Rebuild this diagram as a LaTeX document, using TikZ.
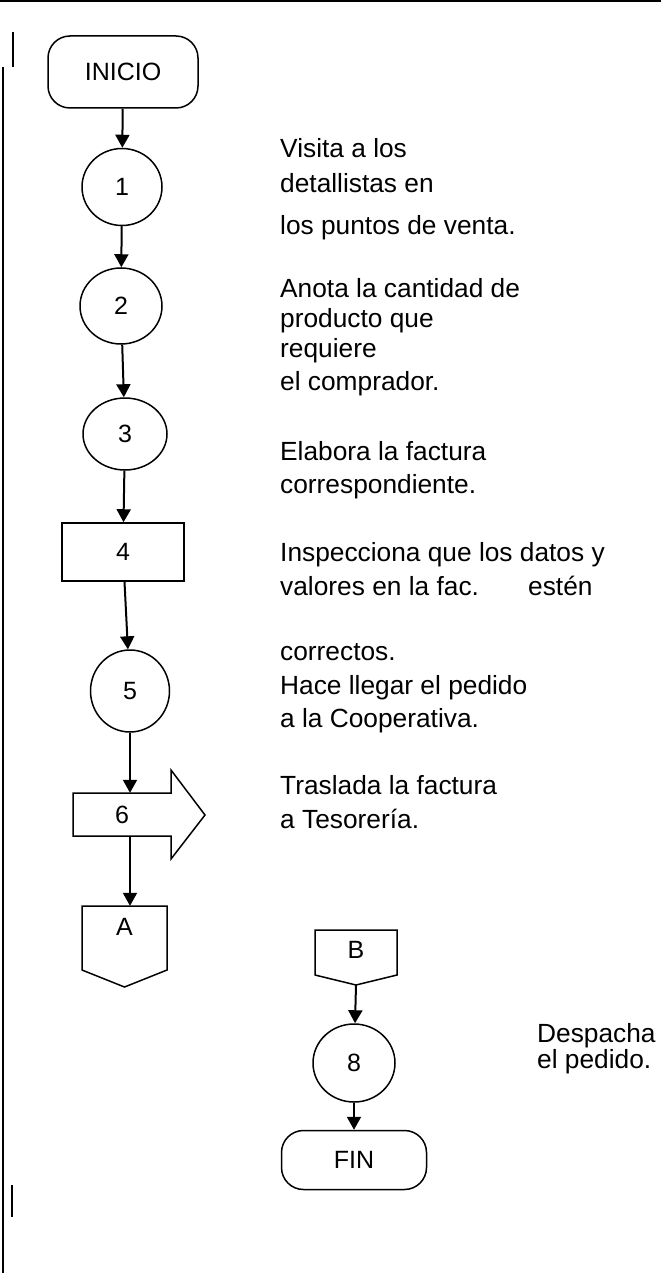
\documentclass[tikz,border=0pt]{standalone}
\usepackage{fontspec}
\setmainfont{Liberation Sans}
\usetikzlibrary{shapes.geometric,arrows.meta}
\begin{document}
\begin{tikzpicture}[x=1pt,y=-1pt,
  every node/.style={font=\fontsize{26.3}{30}\selectfont},
  term/.style={draw,line width=1.5pt,rounded corners=22pt,inner sep=0pt},
  oval/.style={draw,ellipse,line width=1.5pt,inner sep=0pt},
  procbox/.style={draw,rectangle,line width=1.5pt,inner sep=0pt},
  lbl/.style={font=\fontsize{25}{30}\selectfont,inner sep=0pt},
  desc/.style={anchor=base west,inner sep=0pt},
  flow/.style={line width=2pt,-{Triangle[width=14pt,length=13pt]}},
  outline/.style={line width=1.5pt,line join=miter},
  frameline/.style={line width=2pt}]
\useasboundingbox (0,0) rectangle (661,1273);

% frame lines
\draw[frameline,line width=2.5pt] (0,1.25) -- (661,1.25);
\draw[frameline] (13,32) -- (13,67);
\draw[frameline] (3,67) -- (3,1273);
\draw[frameline] (12,1185) -- (12,1217);

% left column
\node[term,lbl,minimum width=150pt,minimum height=72pt] (ini) at (123,72) {INICIO};
\node[oval,lbl,minimum width=80pt,minimum height=77pt] (c1) at (122,187) {1};
\node[oval,lbl,minimum width=82pt,minimum height=76pt] (c2) at (121,306) {2};
\node[oval,lbl,minimum width=84pt,minimum height=72pt] (c3) at (125,434) {3};
\node[procbox,lbl,minimum width=122pt,minimum height=58pt] (b4) at (123,552) {4};
\node[oval,lbl,minimum width=79pt,minimum height=82pt] (c5) at (130,691) {5};

\draw[outline] (73,793) -- (171,793) -- (171,770) -- (205,815) -- (171,859) -- (171,836) -- (73,836) -- cycle;
\node[lbl,minimum width=98pt,minimum height=43pt] (s6) at (122,814.5) {6};

\draw[outline] (82,906) -- (167,906) -- (167,970) -- (124.5,987) -- (82,970) -- cycle;
\node[inner sep=0pt,minimum width=85pt,minimum height=64pt] (nA) at (124.5,938) {};
\node[lbl] (lA) at (124.5,927) {A};

\draw[flow] (ini) -- (c1);
\draw[flow] (c1) -- (c2);
\draw[flow] (c2) -- (c3);
\draw[flow] (c3) -- (b4);
\draw[flow] (b4) -- (c5);
\draw[flow] (c5) -- (c5 |- s6.north);
\draw[flow] (c5 |- s6.south) -- (c5 |- nA.north);

% right column
\draw[outline] (315,930) -- (397,930) -- (397,975) -- (356,985) -- (315,975) -- cycle;
\node[inner sep=0pt,minimum width=82pt,minimum height=45pt] (nB) at (356,952.5) {};
\node[lbl] (lB) at (356,950) {B};
\coordinate (tipB) at (356,985);
\node[oval,lbl,minimum width=82pt,minimum height=78pt] (c8) at (354,1063) {8};
\node[term,lbl,minimum width=145pt,minimum height=59pt] (fin) at (354,1160) {FIN};
\draw[flow] (tipB) -- (c8);
\draw[flow] (c8) -- (fin);

% descriptions
\node[desc] (t1) at (280,158) {Visita a los};
\node[desc] (t2) at (280,193) {detallistas en};
\node[desc] (t3) at (280,235) {los puntos de venta.};
\node[desc] (t4) at (280,297) {Anota la cantidad de};
\node[desc] (t5) at (280,327) {producto que};
\node[desc] (t6) at (280,357) {requiere};
\node[desc] (t7) at (280,390) {el comprador.};
\node[desc] (t8) at (280,460) {Elabora la factura};
\node[desc] (t9) at (280,493) {correspondiente.};
\node[desc] (t10) at (280,561) {Inspecciona que los datos y};
\node[desc] (t11) at (280,595) {valores en la fac.};
\node[desc] (t12) at (528,595) {estén};
\node[desc] (t13) at (280,660) {correctos.};
\node[desc] (t14) at (280,694) {Hace llegar el pedido};
\node[desc] (t15) at (280,727) {a la Cooperativa.};
\node[desc] (t16) at (280,794) {Traslada la factura};
\node[desc] (t17) at (280,828) {a Tesorería.};
\node[desc] (t18) at (537,1042) {Despacha};
\node[desc] (t19) at (537,1068) {el pedido.};
\end{tikzpicture}
\end{document}
